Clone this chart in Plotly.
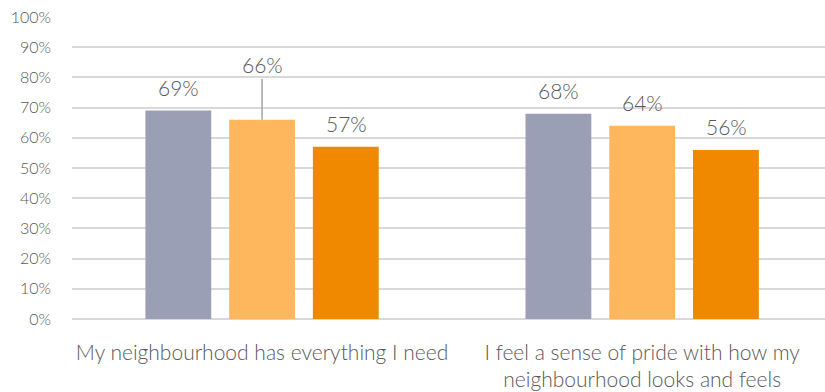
import plotly.graph_objects as go

categories = ["My neighbourhood has everything I need",
              "I feel a sense of pride with how my<br>neighbourhood looks and feels"]
series_names = ["Series A", "Series B", "Series C"]
series_values = [
    [69, 68],
    [66, 64],
    [57, 56],
]
colors = ["#9A9FB5", "#FFB75E", "#F08800"]
label_color = "#595959"
FONT = "Lato"

fig = go.Figure()
for name, vals, col in zip(series_names, series_values, colors):
    fig.add_trace(go.Bar(x=[0, 1], y=vals, name=name, marker_color=col,
                         marker_line_width=0, hoverinfo="skip"))

# data labels
slot_px = 84
for si, vals in enumerate(series_values):
    for ci, v in enumerate(vals):
        xshift = (si - 1) * slot_px
        if si == 1 and ci == 0:
            fig.add_annotation(x=ci, y=v, text=f"{v}%", showarrow=True,
                               arrowhead=0, arrowwidth=1.5, arrowcolor="#A6A6A6",
                               ax=0, ay=-55, xshift=xshift,
                               font=dict(family=FONT, size=21, color=label_color, weight=300))
        else:
            fig.add_annotation(x=ci, y=v, text=f"{v}%", showarrow=False,
                               yanchor="middle", yshift=23, xshift=xshift,
                               font=dict(family=FONT, size=21, color=label_color, weight=300))

fig.update_layout(
    width=825, height=392,
    margin=dict(l=72, r=0, t=17, b=73),
    plot_bgcolor="white", paper_bgcolor="white",
    showlegend=False,
    barmode="group", bargap=0.339, bargroupgap=0.214,
    font=dict(family=FONT, color=label_color, weight=300),
)
fig.update_xaxes(range=[-0.5, 1.481], tickvals=[0, 1], ticktext=categories,
                 showgrid=False, zeroline=False, showline=False, ticks="",
                 ticklabelstandoff=19,
                 tickfont=dict(size=21, color=label_color, family=FONT, weight=300))
fig.update_yaxes(range=[0, 100], dtick=10, ticksuffix="%", showgrid=True,
                 gridcolor="#D9D9D9", gridwidth=1.5, zeroline=True,
                 zerolinecolor="#D9D9D9", zerolinewidth=1.5, showline=False,
                 ticks="", ticklabelstandoff=20,
                 tickfont=dict(size=16, color=label_color, family=FONT, weight=300))

fig.write_html("out.html", config={"displayModeBar": False},
               post_script="document.body.style.margin='0';")
